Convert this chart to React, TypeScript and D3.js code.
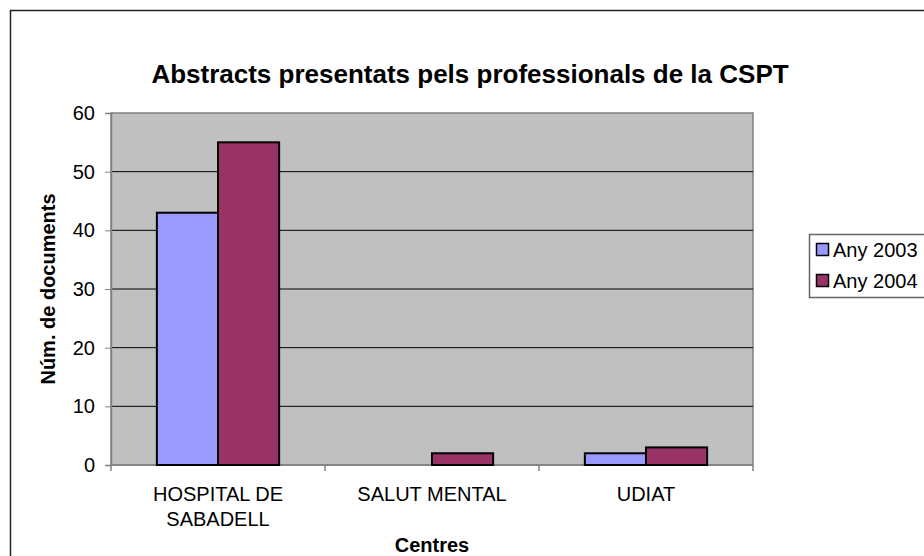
import { useEffect, useRef } from 'react';
import * as d3 from 'd3';

const centres = ['HOSPITAL DE SABADELL', 'SALUT MENTAL', 'UDIAT'];
const centreLines = [['HOSPITAL DE', 'SABADELL'], ['SALUT MENTAL'], ['UDIAT']];
const series = ['Any 2003', 'Any 2004'];
const any2003 = [43, 0, 2];
const any2004 = [55, 2, 3];
const yTicks = [0, 10, 20, 30, 40, 50, 60];
const colors = ['#9999FF', '#993366'];

export default function App() {
  const svgRef = useRef<SVGSVGElement>(null);

  useEffect(() => {
    const svg = d3.select(svgRef.current);
    svg.selectAll('*').remove();
    const font = 'Arial, "Liberation Sans", sans-serif';

    // outer chart border (runs off right and bottom)
    svg.append('rect')
      .attr('x', 10.5).attr('y', 10.5)
      .attr('width', 1000).attr('height', 1000)
      .attr('fill', 'white').attr('stroke', '#222').attr('stroke-width', 1.5);

    const left = 111, right = 753, top = 113, bottom = 465;

    const x0 = d3.scaleBand().domain(centres).range([left, right]).paddingInner(0).paddingOuter(0);
    const y = d3.scaleLinear().domain([0, 60]).range([bottom, top]);

    svg.append('text')
      .attr('x', 470).attr('y', 83)
      .attr('text-anchor', 'middle')
      .attr('font-family', font).attr('font-weight', 'bold').attr('font-size', 26)
      .text('Abstracts presentats pels professionals de la CSPT');

    // plot area
    svg.append('rect')
      .attr('x', left).attr('y', top)
      .attr('width', right - left).attr('height', bottom - top)
      .attr('fill', '#C0C0C0').attr('stroke', '#808080').attr('stroke-width', 1.5);

    svg.append('g').selectAll('line')
      .data(yTicks.slice(1, -1))
      .enter().append('line')
      .attr('x1', left).attr('x2', right)
      .attr('y1', d => y(d)).attr('y2', d => y(d))
      .attr('stroke', '#000').attr('stroke-width', 1);

    // y axis
    const yAxis = svg.append('g')
      .attr('transform', `translate(${left},0)`)
      .call(d3.axisLeft(y).tickValues(yTicks).tickSize(6).tickPadding(10));
    yAxis.select('.domain').attr('stroke', '#808080').attr('stroke-width', 1.5);
    yAxis.selectAll('.tick line').attr('stroke', '#808080');
    yAxis.selectAll('text').attr('font-family', font).attr('font-size', 20).attr('fill', '#000');

    // x axis
    svg.append('line')
      .attr('x1', left).attr('x2', right).attr('y1', bottom).attr('y2', bottom)
      .attr('stroke', '#808080').attr('stroke-width', 1.5);
    svg.append('g').selectAll('line')
      .data([...centres.map(c => x0(c) as number), right])
      .enter().append('line')
      .attr('x1', d => d).attr('x2', d => d)
      .attr('y1', bottom).attr('y2', bottom + 6)
      .attr('stroke', '#808080').attr('stroke-width', 1.5);

    const groupWidth = x0.bandwidth() / 3.5 * 2;
    const x1 = d3.scaleBand().domain(series).range([0, groupWidth]);
    const values = [any2003, any2004];

    centres.forEach((c, i) => {
      const gx = (x0(c) as number) + (x0.bandwidth() - groupWidth) / 2;
      series.forEach((s, j) => {
        const v = values[j][i];
        if (v <= 0) return;
        svg.append('rect')
          .attr('x', gx + (x1(s) as number)).attr('y', y(v))
          .attr('width', x1.bandwidth()).attr('height', y(0) - y(v))
          .attr('fill', colors[j]).attr('stroke', '#000').attr('stroke-width', 2);
      });
      centreLines[i].forEach((ln, k) => {
        svg.append('text')
          .attr('x', (x0(c) as number) + x0.bandwidth() / 2)
          .attr('y', 501 + k * 25)
          .attr('text-anchor', 'middle')
          .attr('font-family', font).attr('font-size', 20)
          .text(ln);
      });
    });

    svg.append('text')
      .attr('x', (left + right) / 2).attr('y', 552)
      .attr('text-anchor', 'middle')
      .attr('font-family', font).attr('font-weight', 'bold').attr('font-size', 20)
      .text('Centres');

    svg.append('text')
      .attr('transform', `translate(55,${(top + bottom) / 2}) rotate(-90)`)
      .attr('text-anchor', 'middle')
      .attr('font-family', font).attr('font-weight', 'bold').attr('font-size', 20)
      .text('Núm. de documents');

    // legend
    svg.append('rect')
      .attr('x', 809.5).attr('y', 234.5).attr('width', 200).attr('height', 63)
      .attr('fill', 'white').attr('stroke', '#666').attr('stroke-width', 1.5);
    series.forEach((s, j) => {
      const ly = 250 + j * 31;
      svg.append('rect')
        .attr('x', 816.5).attr('y', ly - 6.5).attr('width', 12).attr('height', 12)
        .attr('fill', colors[j]).attr('stroke', '#000').attr('stroke-width', 1.5);
      svg.append('text')
        .attr('x', 833).attr('y', ly + 7)
        .attr('font-family', font).attr('font-size', 20)
        .text(s);
    });
  }, []);

  return (
    <svg ref={svgRef} width={924} height={556}
      style={{ position: 'absolute', left: 0, top: 0, background: 'white' }} />
  );
}
